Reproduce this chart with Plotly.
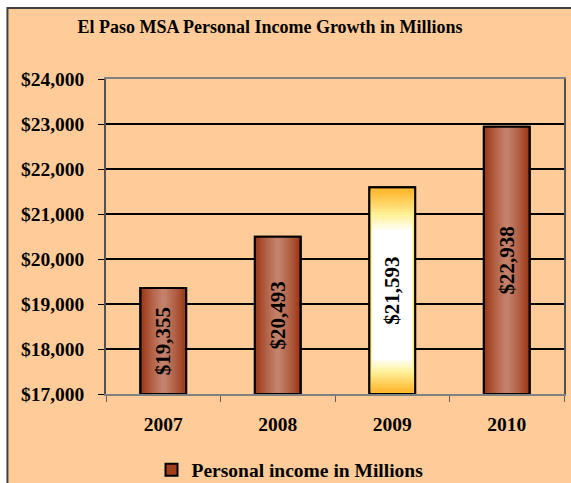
import plotly.graph_objects as go

years = ["2007", "2008", "2009", "2010"]
income = [19355, 20493, 21593, 22938]
series_name = "Personal income in Millions"
title_text = "El Paso MSA Personal Income Growth in Millions"
y_min, y_max, y_step = 17000, 24000, 1000
highlight_year = "2009"

PEACH = "#FFCC99"
FONT = "Liberation Serif"
BAR_W = 0.4
TICK_SIZE = 19.5


def lerp(c1, c2, t):
    return "rgb(%d,%d,%d)" % tuple(round(a + (b - a) * t) for a, b in zip(c1, c2))


brown_edge = (153, 51, 17)
brown_mid = (198, 134, 112)
orange_edge = (255, 178, 40)
yellow_mid = (255, 240, 150)
white = (255, 255, 255)

fig = go.Figure()

# base bars (legend entry)
base_colors = ["rgb(255,190,50)" if y == highlight_year else "rgb(160,62,30)" for y in years]
fig.add_trace(go.Bar(
    x=years, y=[v - y_min for v in income], base=y_min, width=BAR_W,
    marker=dict(color=base_colors, line=dict(color="black", width=2)),
    name=series_name, showlegend=True, hoverinfo="skip",
))

# horizontal gradient for brown bars
brown_x = [y for y in years if y != highlight_year]
brown_v = [v for y, v in zip(years, income) if y != highlight_year]
N = 14
for k in range(1, N):
    t = k / N
    fig.add_trace(go.Bar(
        x=brown_x, y=[v - y_min for v in brown_v], base=y_min,
        width=BAR_W * (1 - t * 0.97),
        marker=dict(color=lerp(brown_edge, brown_mid, t ** 0.8), line=dict(width=0)),
        showlegend=False, hoverinfo="skip",
    ))

# vertical gradient for highlighted bar
hv = income[years.index(highlight_year)]
M = 14
top_fade, bot_fade = 950, 760
for k in range(1, M + 1):
    t = k / M
    if t <= 0.6:
        col = lerp(orange_edge, yellow_mid, t / 0.6)
    else:
        col = lerp(yellow_mid, white, (t - 0.6) / 0.4)
    b = y_min + bot_fade * t
    top = hv - top_fade * t
    fig.add_trace(go.Bar(
        x=[highlight_year], y=[top - b], base=b,
        width=BAR_W * (1 - 0.14 * t),
        marker=dict(color=col, line=dict(width=0)),
        showlegend=False, hoverinfo="skip",
    ))

# outline + labels
fig.add_trace(go.Bar(
    x=years, y=[v - y_min for v in income], base=y_min, width=BAR_W,
    marker=dict(color="rgba(0,0,0,0)", line=dict(color="black", width=2)),
    text=["$" + format(v, ",") for v in income],
    textposition="inside", insidetextanchor="middle", textangle=-90,
    textfont=dict(family=FONT, size=21, color="black", weight="bold"),
    constraintext="none",
    showlegend=False, hoverinfo="skip",
))

W, H = 571, 483
ml, mr, mt, mb = 106, 5, 79, 89
pw, ph = W - ml - mr, H - mt - mb

fig.update_layout(
    width=W, height=H,
    margin=dict(l=ml, r=mr, t=mt, b=mb),
    barmode="overlay",
    paper_bgcolor="white",
    plot_bgcolor=PEACH,
    font=dict(family=FONT, color="black"),
    title=dict(text="<b>" + title_text + "</b>", font=dict(family=FONT, size=18, color="black"),
               xref="container", x=270 / W, xanchor="center",
               yref="container", y=1 - 27 / H, yanchor="middle"),
    legend=dict(orientation="h", xref="container", x=290 / W, xanchor="center",
                yref="container", y=1 - 470 / H, yanchor="middle",
                font=dict(family=FONT, size=TICK_SIZE, color="black", weight="bold"),
                bgcolor="rgba(0,0,0,0)", itemwidth=30),
    shapes=[dict(type="rect", xref="paper", yref="paper", layer="below",
                 x0=(7 - ml) / pw, x1=(W + 10 - ml) / pw,
                 y0=(H - mb - (H + 10)) / ph, y1=(H - mb - 8) / ph,
                 fillcolor=PEACH, line=dict(color="#404040", width=2))],
    xaxis=dict(type="category", showline=True, linecolor="#808080", linewidth=1.5, mirror=True,
               ticks="outside", tickson="boundaries", ticklen=6, tickcolor="#606060",
               tickfont=dict(family=FONT, size=TICK_SIZE, color="black", weight="bold"),
               ticklabelstandoff=12, showgrid=False),
    yaxis=dict(range=[y_min, y_max], dtick=y_step, tick0=y_min,
               tickprefix="$", tickformat=",d",
               showline=True, linecolor="#505050", linewidth=1.5, mirror=True,
               ticks="outside", ticklen=6, tickcolor="black",
               showgrid=True, gridcolor="black", gridwidth=1.5, zeroline=False,
               tickfont=dict(family=FONT, size=TICK_SIZE, color="black", weight="bold"),
               ticklabelstandoff=10),
)

fig.write_html("out.html")
